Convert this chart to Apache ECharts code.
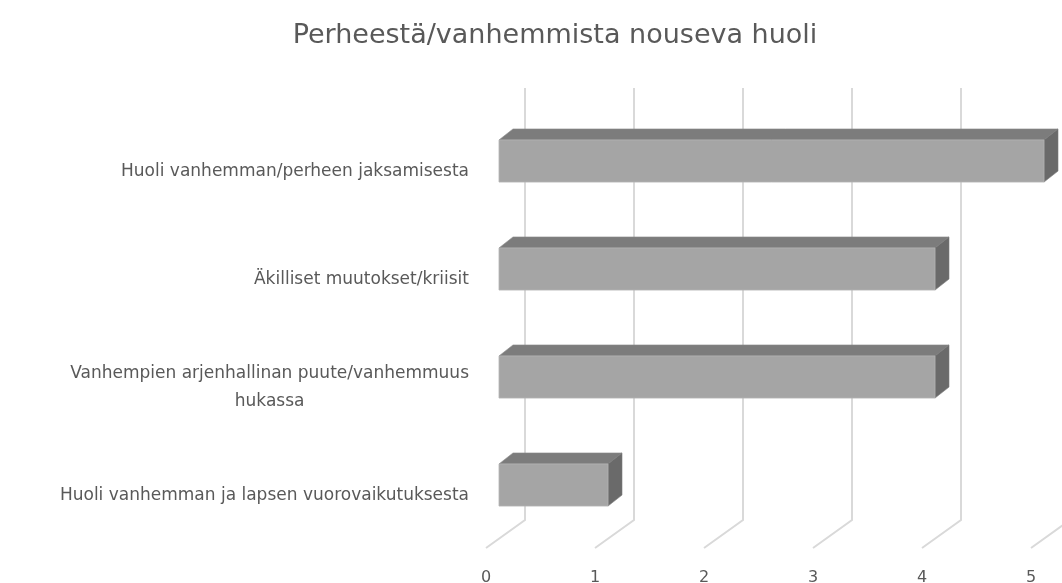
<!DOCTYPE html>
<html>
<head>
<meta charset="utf-8">
<title>Perheestä/vanhemmista nouseva huoli</title>
<script src="https://cdn.jsdelivr.net/npm/echarts@6/dist/echarts.min.js"></script>
<style>html,body{margin:0;padding:0;background:#fff;}</style>
</head>
<body>
<div id="main" style="width:1062px;height:583px;"></div>
<script type="text/javascript">
// data
var categories = [
    'Huoli vanhemman/perheen jaksamisesta',
    'Äkilliset muutokset/kriisit',
    'Vanhempien arjenhallinan puute/vanhemmuus\nhukassa',
    'Huoli vanhemman ja lapsen vuorovaikutuksesta'
];
var values = [5, 4, 4, 1];
var xTicks = [0, 1, 2, 3, 4, 5];

// 3d look: floor depth and bar depth offsets (px)
var DEPTH_X = 39, DEPTH_Y = -28;
var BAR_OFF_X = 13, BAR_OFF_Y = -9;
var BAR_DX = 14, BAR_DY = -11;

function initChart() {
    var myChart = echarts.init(document.getElementById('main'));

    var barData = values.map(function (v, i) { return [v, i]; });
    var tickData = xTicks.map(function (t) { return [t, 0]; });

    var option = {
        animation: false,
        textStyle: { fontFamily: 'DejaVu Sans' },
        title: {
            text: 'Perheestä/vanhemmista nouseva huoli',
            left: 550,
            top: 17,
            textAlign: 'center',
            textStyle: { fontSize: 27, fontWeight: 'normal', color: '#595959', fontFamily: 'DejaVu Sans' }
        },
        grid: { left: 486, right: 31, top: 116, bottom: 35, outerBoundsMode: 'none' },
        xAxis: {
            type: 'value',
            min: 0,
            max: 5,
            interval: 1,
            axisLine: { show: false },
            axisTick: { show: false },
            splitLine: { show: false },
            axisLabel: { margin: 22, fontSize: 16, color: '#595959' }
        },
        yAxis: {
            type: 'category',
            inverse: true,
            data: categories,
            axisLine: { show: false },
            axisTick: { show: false },
            axisLabel: {
                margin: 17,
                formatter: function (s) {
                    return s.split('\n').map(function (l) { return '{c|' + l + '}'; }).join('\n');
                },
                rich: {
                    c: { align: 'center', fontSize: 17, lineHeight: 28, color: '#595959', fontFamily: 'DejaVu Sans', padding: [4, 0, 0, 0] }
                }
            }
        },
        series: [
            {
                // back wall + floor gridlines
                type: 'custom',
                z: 1,
                silent: true,
                data: tickData,
                renderItem: function (params, api) {
                    var cs = params.coordSys;
                    var x = api.coord([api.value(0), 0])[0];
                    var yb = cs.y + cs.height;
                    return {
                        type: 'polyline',
                        shape: { points: [[x, yb], [x + DEPTH_X, yb + DEPTH_Y], [x + DEPTH_X, cs.y + DEPTH_Y]] },
                        style: { stroke: '#d9d9d9', lineWidth: 2, fill: null }
                    };
                }
            },
            {
                type: 'custom',
                z: 2,
                data: barData,
                renderItem: function (params, api) {
                    var p0 = api.coord([0, api.value(1)]);
                    var p1 = api.coord([api.value(0), api.value(1)]);
                    var h = api.size([0, 1])[1] * 0.39;
                    var x0 = p0[0] + BAR_OFF_X, x1 = p1[0] + BAR_OFF_X;
                    var yt = p0[1] + BAR_OFF_Y - h / 2, yb = yt + h;
                    return {
                        type: 'group',
                        children: [
                            {
                                type: 'polygon',
                                shape: { points: [[x0, yt], [x0 + BAR_DX, yt + BAR_DY], [x1 + BAR_DX, yt + BAR_DY], [x1, yt]] },
                                style: { fill: '#7c7c7c', stroke: '#8a8a8a', lineWidth: 0.6 }
                            },
                            {
                                type: 'polygon',
                                shape: { points: [[x1, yt], [x1 + BAR_DX, yt + BAR_DY], [x1 + BAR_DX, yb + BAR_DY], [x1, yb]] },
                                style: { fill: '#6a6a6a', stroke: '#7a7a7a', lineWidth: 0.6 }
                            },
                            {
                                type: 'rect',
                                shape: { x: x0, y: yt, width: x1 - x0, height: h },
                                style: { fill: '#a5a5a5', stroke: '#b4b4b4', lineWidth: 0.8 }
                            }
                        ]
                    };
                }
            }
        ]
    };

    myChart.setOption(option);
}

initChart();
</script>
</body>
</html>
